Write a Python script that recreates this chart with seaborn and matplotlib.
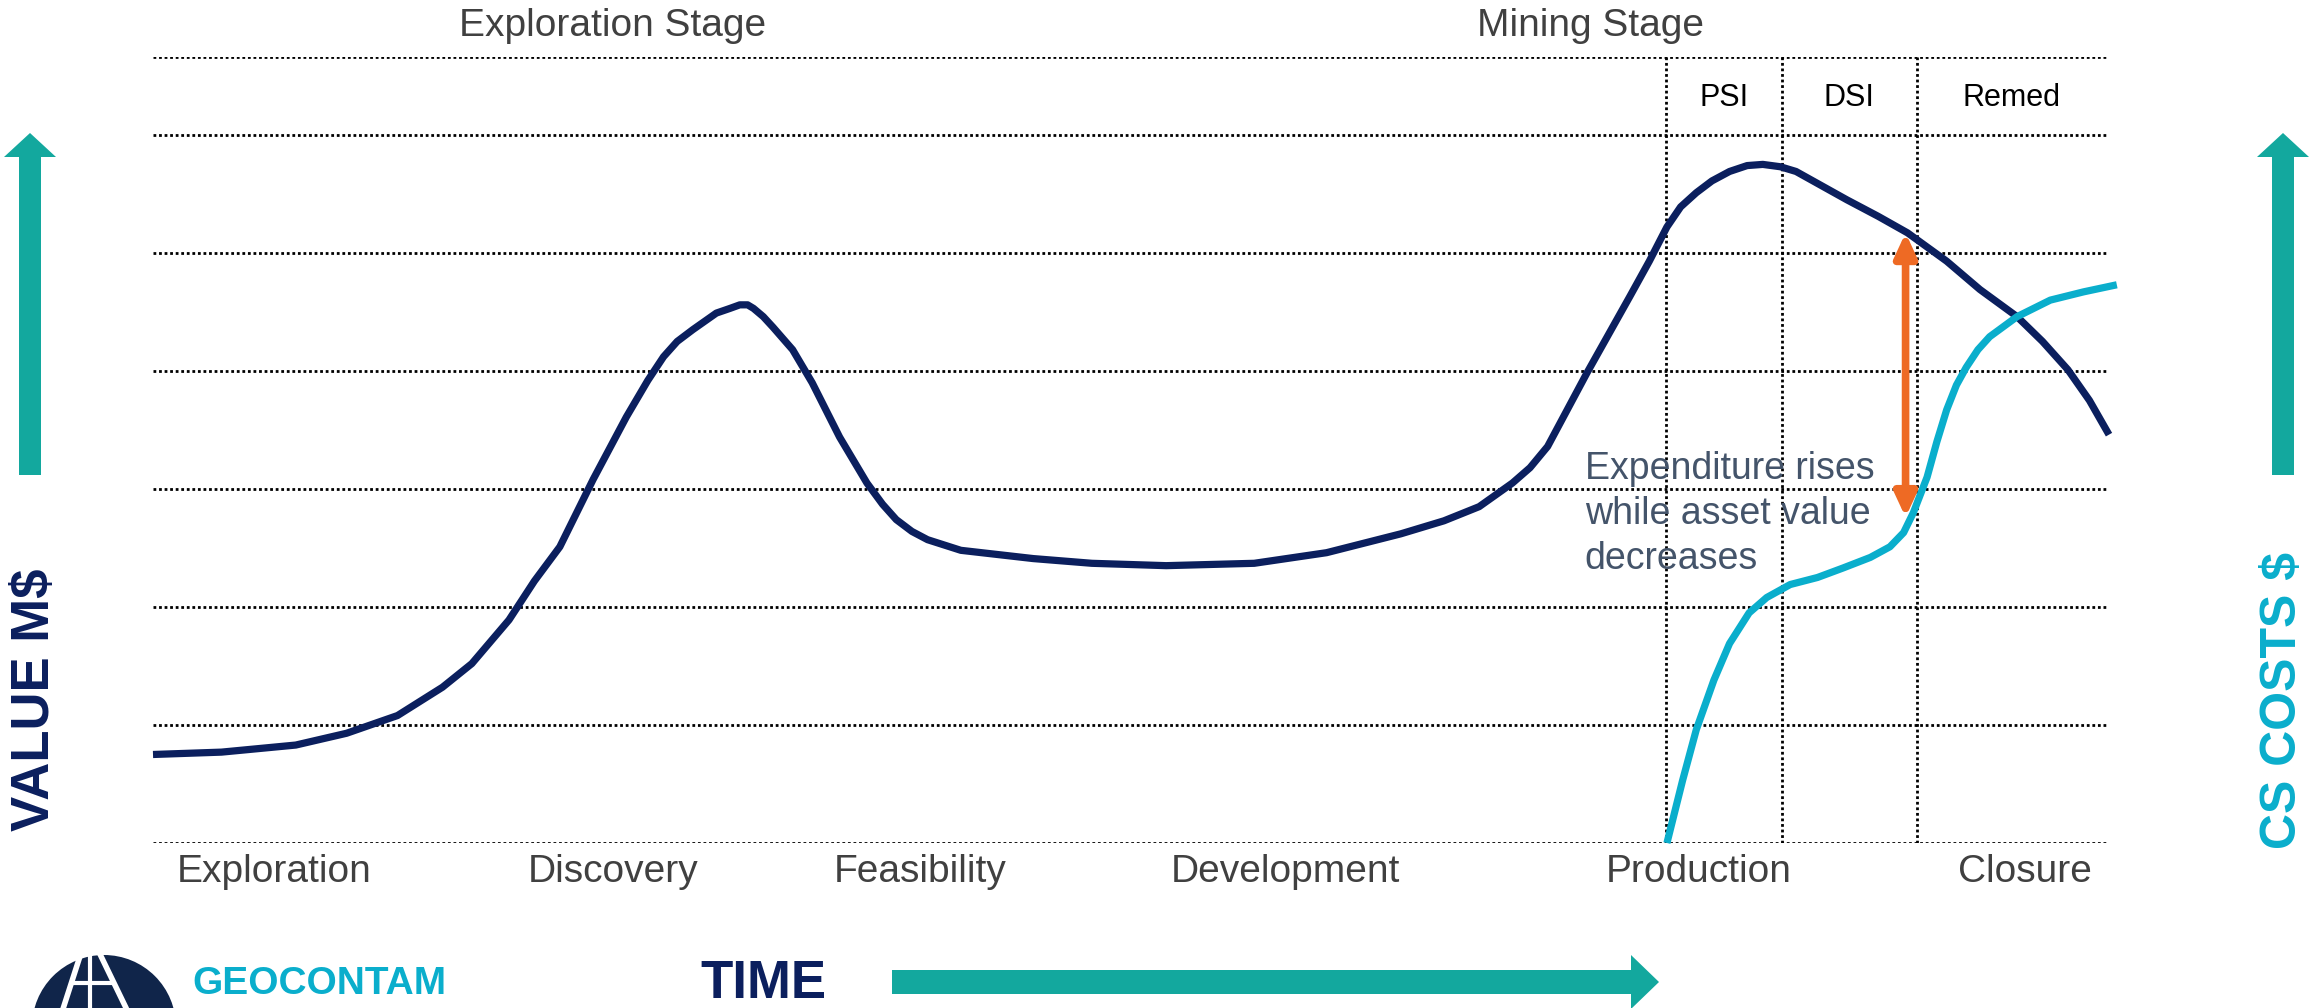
import matplotlib
matplotlib.use("Agg")
import matplotlib.pyplot as plt
import matplotlib.patches as mpatches
import seaborn as sns

# ---- data ----
value_x = [0.0, 3.5, 7.3, 9.9, 12.5, 14.8, 16.3, 18.2, 19.5, 20.8, 22.5, 24.2, 25.3, 26.1,
           26.8, 27.6, 28.8, 29.5, 30.0, 30.4, 30.7, 31.2, 31.7, 32.7, 33.7, 35.1, 36.5,
           37.3, 38.0, 38.8, 39.6, 41.3, 45.0, 48.0, 51.8, 56.3, 60.0, 63.8, 66.0, 67.8,
           69.5, 70.4, 71.3, 73.3, 75.5, 76.5, 77.4, 78.1, 78.9, 79.7, 80.6, 81.5, 82.3,
           83.2, 84.0, 85.3, 86.6, 88.2, 89.7, 90.7, 91.7, 93.4, 95.3, 96.6, 97.9, 99.0,
           100.0]
value_y = [0.75, 0.77, 0.83, 0.93, 1.08, 1.32, 1.52, 1.89, 2.22, 2.51, 3.08, 3.61, 3.92, 4.12,
           4.25, 4.35, 4.49, 4.53, 4.56, 4.56, 4.53, 4.46, 4.37, 4.18, 3.90, 3.44, 3.05,
           2.87, 2.74, 2.64, 2.57, 2.48, 2.41, 2.37, 2.35, 2.37, 2.46, 2.62, 2.73, 2.85,
           3.05, 3.18, 3.36, 3.98, 4.63, 4.93, 5.22, 5.39, 5.51, 5.61, 5.69, 5.74, 5.75,
           5.73, 5.69, 5.57, 5.45, 5.31, 5.17, 5.05, 4.93, 4.69, 4.46, 4.25, 4.01, 3.75,
           3.46]

cost_x = [77.4, 78.2, 78.9, 79.8, 80.6, 81.6, 82.5, 83.7, 85.1, 86.4, 87.8, 88.8, 89.5,
          90.0, 90.7, 91.2, 91.7, 92.2, 92.7, 93.3, 93.9, 95.3, 97.0, 98.7, 100.4]
cost_y = [0.0, 0.53, 0.96, 1.38, 1.69, 1.95, 2.08, 2.19, 2.25, 2.33, 2.42, 2.51, 2.63,
          2.80, 3.10, 3.40, 3.67, 3.88, 4.03, 4.18, 4.29, 4.46, 4.60, 4.67, 4.73]

grid_levels = [0, 1, 2, 3, 4, 5, 6, 6.66]
mining_splits = [77.35, 83.3, 90.2]

phase_labels = ["Exploration", "Discovery", "Feasibility", "Development", "Production", "Closure"]
phase_pos = [6.2, 23.5, 39.2, 57.9, 79.0, 95.7]

stage_labels = ["Exploration Stage", "Mining Stage"]
stage_pos = [23.5, 73.5]

sub_labels = ["PSI", "DSI", "Remed"]
sub_pos = [80.3, 86.7, 95.0]

gap_x = 89.6
gap_top = 5.17
gap_bottom = 2.76

NAVY = "#0B1F5E"
CYAN = "#0AAECC"
TEAL = "#13A89E"
ORANGE = "#EE6A24"
GREY = "#404040"
SLATE = "#44546A"

sns.set_style("white")
plt.rcParams["font.family"] = ["Liberation Sans", "DejaVu Sans"]

W, H = 2313, 1008
fig = plt.figure(figsize=(W / 100, H / 100), dpi=100)

ax = fig.add_axes([153 / W, 1 - 843 / H, (2109 - 153) / W, (843 - 57) / H])
ax.set_xlim(0, 100)
ax.set_ylim(0, 6.66)
sns.despine(ax=ax, left=True, bottom=True)
ax.set_yticks([])

# dotted grid
ax.hlines(grid_levels, 0, 100, colors="black", linestyles=(0, (1, 1)), lw=2, zorder=1)
ax.vlines(mining_splits, 0, 6.66, colors="black", linestyles=(0, (1, 1)), lw=2, zorder=1)

# curves
sns.lineplot(x=value_x, y=value_y, ax=ax, color=NAVY, lw=5.2, sort=False, zorder=3)
sns.lineplot(x=cost_x, y=cost_y, ax=ax, color=CYAN, lw=5.2, sort=False, zorder=3)
for ln in ax.lines:
    ln.set_clip_on(False)
    ln.set_solid_capstyle("butt")
    ln.set_solid_joinstyle("round")

# gap arrow
ax.annotate("", xy=(gap_x, gap_top), xytext=(gap_x, gap_bottom),
            arrowprops=dict(arrowstyle="<|-|>,head_length=1.4,head_width=0.65",
                            color=ORANGE, lw=5.5, shrinkA=0, shrinkB=0), zorder=4)
ax.text(73.2, 3.32, "Expenditure rises\nwhile asset value\ndecreases", ha="left", va="top",
        fontsize=27, color=SLATE, linespacing=1.32, zorder=2)

# labels
ax.set_xticks(phase_pos, phase_labels)
ax.tick_params(axis="x", length=0, pad=8, labelsize=28, labelcolor=GREY)
for lab, p in zip(stage_labels, stage_pos):
    ax.text(p, 6.92, lab, ha="center", va="center", fontsize=28, color=GREY)
for lab, p in zip(sub_labels, sub_pos):
    ax.text(p, 6.31, lab, ha="center", va="center", fontsize=22, color="black")

# overlay in pixel coordinates for decorations
ov = fig.add_axes([0, 0, 1, 1], zorder=-1)
ov.set_xlim(0, W)
ov.set_ylim(H, 0)
ov.axis("off")

for xa in (30, 2283):
    ov.add_patch(mpatches.FancyArrow(xa, 475, 0, -342, width=22, head_width=52, head_length=24,
                                     length_includes_head=True, color=TEAL, lw=0))
ov.add_patch(mpatches.FancyArrow(892, 982, 767, 0, width=24, head_width=54, head_length=28,
                                 length_includes_head=True, color=TEAL, lw=0))

ov.text(35, 700, "VALUE M$", rotation=90, ha="center", va="center", fontsize=38,
        fontweight="bold", color=NAVY)
ov.text(2283, 700, "CS COSTS $", rotation=90, ha="center", va="center", fontsize=36,
        fontweight="bold", color=CYAN)
ov.text(763, 984, "TIME", ha="center", va="center", fontsize=38, fontweight="bold", color=NAVY)
ov.text(192, 984, "GEOCONTAM", ha="left", va="center", fontsize=28, fontweight="bold", color=CYAN)

# logo
ov.add_patch(mpatches.Circle((104, 1027), 72, color="#10254A", lw=0))
ov.plot([82, 62], [950, 1012], color="white", lw=4, solid_capstyle="butt")
ov.plot([98, 128], [950, 1012], color="white", lw=4, solid_capstyle="butt")
ov.plot([90, 90], [955, 1012], color="white", lw=3)
ov.plot([73, 114], [983, 983], color="white", lw=3)
ov.plot([80, 100], [951, 951], color="white", lw=3)

fig.savefig("out.png", dpi=100, facecolor="white")
